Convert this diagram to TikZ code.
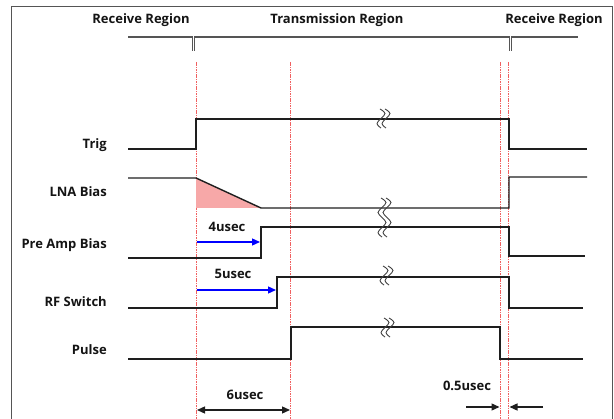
\documentclass[tikz,border=0pt]{standalone}
\usepackage{fontspec}
\setmainfont{Open Sans}
\usetikzlibrary{arrows.meta}
\definecolor{sigcol}{HTML}{1E1E1E}
\definecolor{framecol}{HTML}{555555}
\definecolor{guidecol}{HTML}{F06060}
\definecolor{rampfill}{HTML}{F7A8A8}
\begin{document}
\begin{tikzpicture}[x=1pt,y=-1pt,
  sig/.style={draw=sigcol, line width=1.4pt, line join=miter},
  guide/.style={draw=guidecol, line width=0.6pt, dash pattern=on 1.6pt off 0.8pt},
  bracket/.style={draw=framecol, line width=1.3pt},
  lbl/.style={font=\fontsize{13}{15}\selectfont\bfseries, text=black!92, inner sep=0pt, text height=9.3pt, text depth=0pt},
  tick/.style={-{Triangle[length=8pt,width=7pt]}, line width=1.3pt},
  brkline/.style={draw=black!75, line width=0.9pt}
]
\useasboundingbox (0,0) rectangle (614,419);

% outer frame, open at the bottom
\draw[draw=framecol, line width=1pt] (11.5,419) -- (11.5,7) -- (612,7) -- (612,419);

% region headings and bracket
\node[lbl] (rxa) at (141,19) {Receive Region};
\node[lbl] (tx)  at (337,19) {Transmission Region};
\node[lbl] (rxb) at (554,19) {Receive Region};
\draw[bracket] (128,37) -- (192.5,37) -- (192.5,51);
\draw[bracket] (194.5,51) -- (194.5,37) -- (509.5,37) -- (509.5,51);
\draw[bracket] (511.5,51) -- (511.5,37) -- (578,37);

% timing guides
\foreach \gx in {196,290.5,500,508.5}
  \draw[guide] (\gx,62) -- (\gx,419);

% signal names
\node[lbl, anchor=east] (ltrig)  at (107,144)   {Trig};
\node[lbl, anchor=east] (llna)   at (107,191.5) {LNA Bias};
\node[lbl, anchor=east] (lpre)   at (107,244)   {Pre Amp Bias};
\node[lbl, anchor=east] (lrf)    at (107,301.5) {RF Switch};
\node[lbl, anchor=east] (lpulse) at (107,350)   {Pulse};

% LNA bias decay shading
\fill[rampfill] (196,178) -- (196,208) -- (261,208) -- cycle;

% waveforms
\draw[sig] (128,149) -- (196,149) -- (196,119) -- (509,119) -- (509,149) -- (587,149);
\draw[sig] (128,178) -- (196,178) -- (261,208) -- (509,208) -- (509,177) -- (587,177);
\draw[sig] (128,258) -- (261,258) -- (261,227) -- (509,227) -- (509,256) -- (585,256);
\draw[sig] (128,308) -- (277,308) -- (277,277) -- (509,277) -- (509,308) -- (583,308);
\draw[sig] (128,359) -- (291,359) -- (291,327) -- (500,327) -- (500,359) -- (583,359);

% time-axis break marks
\foreach \d in {0,5}{
  \draw[brkline] plot[smooth, tension=0.7] coordinates
    {(380+\d,109) (385+\d,113.5) (381+\d,118.5) (377+\d,123.5) (381+\d,128)};
  \draw[brkline] plot[smooth, tension=0.7] coordinates
    {(381+\d,198) (386+\d,202.5) (382+\d,207.5) (378+\d,212.5) (382+\d,217.5)
     (386+\d,222.5) (382+\d,227.5) (378+\d,232.5) (382+\d,237)};
  \draw[brkline] plot[smooth, tension=0.7] coordinates
    {(383+\d,266) (388+\d,270.5) (384+\d,275.5) (380+\d,280.5) (384+\d,285)};
  \draw[brkline] plot[smooth, tension=0.7] coordinates
    {(384+\d,318) (389+\d,322.5) (385+\d,327.5) (381+\d,332.5) (385+\d,337)};
}

% delay annotations
\coordinate (a4s) at (196.5,242);   \coordinate (a4e) at (260,242);
\coordinate (a5s) at (196.5,290);   \coordinate (a5e) at (276,290);
\draw[tick, blue] (a4s) -- (a4e);
\draw[tick, blue] (a5s) -- (a5e);
\node[lbl] (t4) at (227,226.5) {4usec};
\node[lbl] (t5) at (233,274)   {5usec};

\coordinate (s6a) at (197,410); \coordinate (s6b) at (290,410);
\draw[tick, {Triangle[length=8pt,width=7pt]}-{Triangle[length=8pt,width=7pt]}, sigcol] (s6a) -- (s6b);
\node[lbl] (t6) at (245,395) {6usec};

\coordinate (h1) at (466,407); \coordinate (h1e) at (499.5,407);
\coordinate (h2) at (543,407); \coordinate (h2e) at (509.5,407);
\draw[tick, sigcol] (h1) -- (h1e);
\draw[tick, sigcol] (h2) -- (h2e);
\node[lbl] (t05) at (467,386) {0.5usec};
\end{tikzpicture}
\end{document}
